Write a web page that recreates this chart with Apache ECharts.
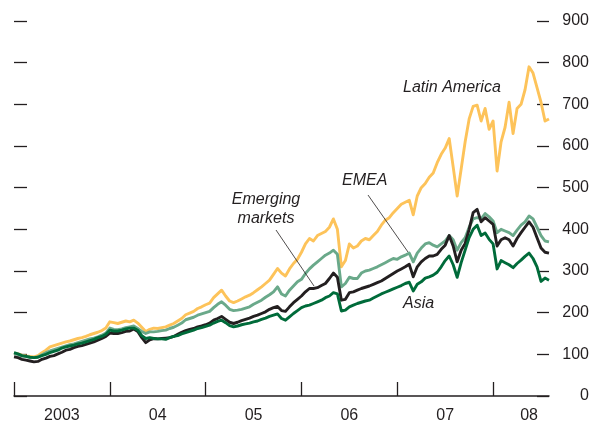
<!DOCTYPE html>
<html>
<head>
<meta charset="utf-8">
<script src="https://cdn.jsdelivr.net/npm/echarts@6/dist/echarts.min.js"></script>
<style>
  html, body { margin: 0; padding: 0; background: #fff; }
  #main { width: 594px; height: 427px; }
</style>
</head>
<body>
<div id="main"></div>
<script>
// semi-monthly points, Jan 2003 .. mid 2008 (1st and 15th of each month)
var dates = [];
for (let y = 2003; y <= 2008; y++) {
  for (let m = 1; m <= 12; m++) {
    let mm = (m < 10 ? "0" : "") + m;
    dates.push(y + "-" + mm + "-01");
    dates.push(y + "-" + mm + "-15");
  }
}
dates = dates.slice(0, 135);

// x axis labels: index where each year label sits
var yearLabels = ["2003", "04", "05", "06", "07", "08"];
var yearLabelIdx = [12, 36, 60, 84, 108, 129];
var yTicks = [0, 100, 200, 300, 400, 500, 600, 700, 800, 900];

// index values (start = 100)
var latinAmerica = [
  103, 101, 98, 96, 95, 94, 97, 104, 110, 118, 121, 124, 127, 130, 132, 135, 138, 140, 143, 147, 150, 153, 157, 163,
  178, 176, 174, 177, 180, 178, 182, 175, 165, 155, 160, 163, 162, 164, 166, 170, 174, 180, 186, 195, 199, 203, 210, 214,
  219, 223, 236, 245, 254, 240, 228, 224, 228, 233, 238, 242, 248, 255, 262, 270, 278, 292, 306, 295, 288, 305, 318, 328,
  345, 365, 378, 372, 385, 390, 395, 405, 425, 400, 310, 325, 365, 355, 360, 372, 378, 375, 385, 395, 410, 422, 428, 440,
  450, 460, 465, 470, 435, 480, 500, 510, 525, 535, 560, 580, 595, 618, 550, 480, 545, 610, 665, 695, 698, 660, 690, 640,
  660, 540, 610, 645, 705, 630, 690, 700, 735, 790, 775, 740, 705, 660, 665
];
var emea = [
  102, 100, 96, 95, 93, 92, 94, 99, 104, 108, 111, 114, 117, 120, 123, 125, 128, 131, 134, 137, 139, 142, 146, 151,
  163, 160, 159, 161, 164, 166, 168, 162, 155, 150, 154, 154, 155, 157, 158, 162, 165, 170, 175, 183, 186, 189, 194, 197,
  200, 203, 212, 220, 226, 218, 208, 205, 206, 208, 211, 214, 220, 225, 230, 237, 243, 250, 262, 245, 240, 254, 264, 274,
  280, 294, 305, 314, 322, 330, 338, 343, 350, 340, 262, 270, 285, 282, 282, 295, 300, 302, 306, 310, 315, 320, 325, 330,
  328, 334, 338, 343, 322, 343, 355, 365, 368, 362, 358, 365, 372, 385, 375, 350, 368, 380, 405, 425, 428, 425, 438, 430,
  420, 392, 400, 396, 392, 385, 398, 410, 418, 432, 425, 405, 385, 372, 370
];
var emergingMarkets = [
  94, 92, 88, 86, 84, 82, 83, 88, 91, 95, 97, 101, 105, 110, 112, 116, 119, 121, 124, 127, 130, 134, 138, 143,
  151, 150, 150, 152, 155, 156, 161, 155, 140, 128, 135, 138, 137, 138, 139, 140, 143, 148, 153, 157, 160, 162, 166, 168,
  171, 175, 182, 186, 191, 184, 177, 174, 177, 181, 184, 187, 191, 194, 198, 202, 208, 212, 215, 205, 203, 214, 224, 232,
  240, 250, 258, 258, 260, 265, 270, 282, 295, 285, 230, 232, 248, 250, 254, 258, 261, 264, 268, 272, 276, 282, 288, 294,
  300, 305, 310, 316, 286, 310, 322, 330, 336, 336, 340, 352, 362, 385, 360, 322, 350, 366, 400, 440, 448, 418, 428, 420,
  412, 360, 375, 380, 375, 360, 378, 392, 405, 418, 405, 380, 355, 345, 343
];
var asia = [
  104, 101, 97, 95, 93, 92, 93, 97, 100, 104, 107, 110, 115, 118, 120, 122, 125, 127, 130, 133, 136, 140, 143, 148,
  158, 156, 156, 158, 161, 163, 163, 158, 145, 138, 140, 138, 137, 137, 136, 140, 143, 145, 149, 152, 155, 158, 162, 164,
  167, 170, 175, 179, 182, 176, 169, 166, 168, 171, 173, 175, 178, 180, 184, 187, 191, 194, 197, 186, 182, 190, 198, 205,
  212, 216, 218, 222, 226, 230, 236, 240, 248, 245, 204, 206, 214, 218, 222, 225, 228, 230, 235, 240, 245, 249, 253, 257,
  261, 265, 270, 273, 252, 268, 274, 283, 286, 290, 297, 310, 325, 336, 315, 285, 320, 350, 380, 400, 410, 385, 391, 376,
  365, 305, 325, 320, 315, 308, 318, 326, 335, 343, 330, 310, 275, 283, 278
];

var ink = "#231f20";
var fontFam = "'Liberation Sans', Arial, sans-serif";

function makeLine(name, data, color) {
  return {
    name: name,
    type: "line",
    data: data,
    symbol: "none",
    smooth: false,
    animation: false,
    lineStyle: { color: color, width: 2.9, join: "round" },
  };
}

var option = {
  animation: false,
  grid: { left: 14, right: 45, top: 21, bottom: 31, containLabel: false },
  xAxis: {
    type: "category",
    data: dates,
    boundaryGap: false,
    axisLine: { show: true, lineStyle: { color: ink, width: 1.5 } },
    axisTick: {
      show: true,
      inside: true,
      length: 14,
      interval: function (index) {
        return index % 24 === 0;
      },
      lineStyle: { color: ink, width: 1.3 },
    },
    axisLabel: {
      interval: function (index) {
        return yearLabelIdx.indexOf(index) >= 0;
      },
      formatter: function (value, index) {
        let k = yearLabelIdx.indexOf(index);
        return k >= 0 ? yearLabels[k] : "";
      },
      color: ink,
      fontSize: 16,
      fontFamily: fontFam,
      margin: 12,
    },
    splitLine: { show: false },
  },
  yAxis: [
    {
      type: "value",
      position: "right",
      min: yTicks[0],
      max: yTicks[yTicks.length - 1],
      interval: 100,
      axisLine: { show: false },
      axisTick: { show: true, inside: true, length: 12, lineStyle: { color: ink, width: 1.3 } },
      axisLabel: {
        color: ink,
        fontSize: 16,
        fontFamily: fontFam,
        align: "right",
        margin: 40,
      },
      splitLine: { show: false },
    },
    {
      type: "value",
      position: "left",
      min: yTicks[0],
      max: yTicks[yTicks.length - 1],
      interval: 100,
      axisLine: { show: false },
      axisTick: { show: true, inside: true, length: 13, lineStyle: { color: ink, width: 1.3 } },
      axisLabel: { show: false },
      splitLine: { show: false },
    },
  ],
  series: [
    makeLine("Latin America", latinAmerica, "#fdc35a"),
    makeLine("EMEA", emea, "#6aa98a"),
    makeLine("Emerging markets", emergingMarkets, "#231f20"),
    makeLine("Asia", asia, "#006b3a"),
  ],
  graphic: [
    {
      type: "text", x: 403, y: 88,
      style: { text: "Latin America", font: "italic 16px " + fontFam, fill: ink, align: "left", verticalAlign: "middle" },
    },
    {
      type: "text", x: 342, y: 181,
      style: { text: "EMEA", font: "italic 16px " + fontFam, fill: ink, align: "left", verticalAlign: "middle" },
    },
    {
      type: "text", x: 266, y: 209,
      style: { text: "Emerging\nmarkets", font: "italic 16px " + fontFam, lineHeight: 19, fill: ink, align: "center", verticalAlign: "middle" },
    },
    {
      type: "text", x: 403, y: 304,
      style: { text: "Asia", font: "italic 16px " + fontFam, fill: ink, align: "left", verticalAlign: "middle" },
    },
    // leader lines
    {
      type: "line", shape: { x1: 276, y1: 230, x2: 314, y2: 286 },
      style: { stroke: ink, lineWidth: 0.8 }, z: 10,
    },
    {
      type: "line", shape: { x1: 368, y1: 195, x2: 408, y2: 252 },
      style: { stroke: ink, lineWidth: 0.8 }, z: 10,
    },
  ],
};

function initEchart(id, opt) {
  const chart = echarts.init(document.getElementById(id));
  chart.clear();
  chart.setOption(opt);
}

initEchart("main", option);
</script>
</body>
</html>
